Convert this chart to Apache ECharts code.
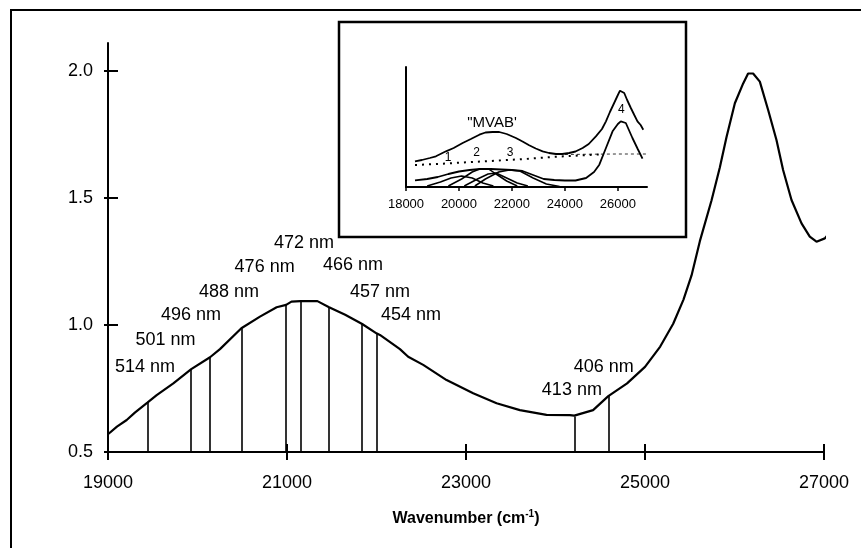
<!DOCTYPE html>
<html>
<head>
<meta charset="utf-8">
<script src="https://cdn.jsdelivr.net/npm/echarts@6/dist/echarts.min.js"></script>
<style>
  html, body { margin: 0; padding: 0; background: #fff; }
  #chart { width: 861px; height: 548px; }
</style>
</head>
<body>
<div id="chart"></div>
<script>
// main spectrum (wavenumber cm-1, absorbance)
var mainWn = [19000, 19100, 19209, 19300, 19440, 19544, 19730, 19930, 20140, 20251, 20490, 20698, 20884, 20990, 21050, 21150, 21340, 21470, 21650, 21840, 22000, 22038, 22262, 22354, 22522, 22783, 23080, 23342, 23602, 23900, 24161, 24210, 24420, 24590, 24800, 25000, 25170, 25315, 25430, 25520, 25613, 25743, 25836, 25911, 26004, 26097, 26152, 26208, 26283, 26376, 26469, 26543, 26637, 26749, 26841, 26916, 27009, 27072];
var mainAbs = [0.57, 0.60, 0.626, 0.655, 0.694, 0.724, 0.770, 0.826, 0.873, 0.905, 0.987, 1.033, 1.070, 1.079, 1.092, 1.094, 1.094, 1.07, 1.04, 1.004, 0.967, 0.961, 0.905, 0.875, 0.843, 0.783, 0.731, 0.692, 0.665, 0.646, 0.645, 0.643, 0.665, 0.72, 0.77, 0.835, 0.915, 1.005, 1.10, 1.195, 1.33, 1.49, 1.62, 1.74, 1.873, 1.951, 1.99, 1.99, 1.958, 1.846, 1.728, 1.61, 1.492, 1.40, 1.348, 1.328, 1.341, 1.367];

// laser lines
var laserNames = ['514 nm', '501 nm', '496 nm', '488 nm', '476 nm', '472 nm', '466 nm', '457 nm', '454 nm', '413 nm', '406 nm'];
var laserWn = [19440, 19930, 20140, 20490, 20990, 21150, 21470, 21840, 22000, 24210, 24590];
var laserTop = [0.694, 0.826, 0.873, 0.987, 1.079, 1.094, 1.07, 1.004, 0.967, 0.64, 0.72];
// where each laser label sits (data coords)
var labelWn = [19413, 19642, 19927, 20352, 20750, 21190, 21737, 22038, 22385, 24183, 24540];
var labelAbs = [0.835, 0.941, 1.039, 1.130, 1.228, 1.323, 1.236, 1.130, 1.039, 0.744, 0.835];

var xTicks = [19000, 21000, 23000, 25000, 27000];
var yTicks = [0.5, 1.0, 1.5, 2.0];

// inset: total spectrum "MVAB'"
var insTopWn = [18340, 18600, 18900, 19130, 19510, 19800, 20140, 20450, 20770, 21000, 21270, 21520, 21800, 22150, 22400, 22650, 22900, 23160, 23400, 23660, 23900, 24160, 24400, 24670, 24900, 25170, 25400, 25550, 25700, 25860, 26000, 26080, 26240, 26350, 26490, 26620, 26740, 26860, 26960];
var insTopVal = [0.257, 0.27, 0.29, 0.307, 0.357, 0.39, 0.44, 0.48, 0.523, 0.545, 0.55, 0.55, 0.53, 0.49, 0.455, 0.417, 0.385, 0.357, 0.34, 0.33, 0.33, 0.34, 0.355, 0.39, 0.43, 0.507, 0.58, 0.657, 0.75, 0.84, 0.92, 0.963, 0.94, 0.87, 0.79, 0.72, 0.657, 0.62, 0.573];
// inset: sum of bands (lower curve)
var insLowWn = [18340, 18800, 19200, 19600, 20000, 20400, 20800, 21200, 21600, 22000, 22400, 22800, 23200, 23600, 24000, 24400, 24800, 25100, 25300, 25550, 25800, 26000, 26110, 26300, 26550, 26750, 26930];
var insLowVal = [0.067, 0.08, 0.10, 0.13, 0.155, 0.17, 0.18, 0.18, 0.175, 0.17, 0.16, 0.12, 0.08, 0.07, 0.065, 0.065, 0.09, 0.15, 0.223, 0.39, 0.557, 0.63, 0.657, 0.64, 0.49, 0.38, 0.283];
// inset: component bands
var band1Wn = [18800, 19300, 19700, 20100, 20500, 20900, 21300];
var band1Val = [0.01, 0.05, 0.09, 0.11, 0.09, 0.04, 0.01];
var band2Wn = [19600, 20100, 20500, 20800, 21100, 21400, 21800, 22200];
var band2Val = [0.01, 0.08, 0.15, 0.183, 0.183, 0.13, 0.06, 0.01];
var band3Wn = [20200, 20700, 21100, 21400, 21800, 22200, 22600];
var band3Val = [0.01, 0.08, 0.13, 0.14, 0.09, 0.04, 0.01];
var band3bWn = [20600, 21000, 21500, 21900, 22300, 22800, 23300, 23800];
var band3bVal = [0.01, 0.08, 0.15, 0.17, 0.16, 0.09, 0.03, 0.005];
// inset baselines
var dotWn = [18340, 19500, 20500, 21500, 22500, 23500, 24500, 25300];
var dotVal = [0.22, 0.235, 0.25, 0.265, 0.28, 0.30, 0.315, 0.325];
var dashWn = [24000, 25000, 26000, 27100];
var dashVal = [0.325, 0.328, 0.33, 0.33];
var insTicks = [18000, 20000, 22000, 24000, 26000];
var insNames = ['"MVAB\'', '1', '2', '3', '4'];
var insNameWn = [21250, 19590, 20670, 21930, 26130];
var insNameVal = [0.64, 0.29, 0.34, 0.34, 0.77];

function pairs(xs, ys) {
  return xs.map(function (x, i) { return [x, ys[i]]; });
}

var font = 'Liberation Sans, Arial, sans-serif';
var narrow = 'Liberation Sans Narrow, Liberation Sans, Arial, sans-serif';

var chart = echarts.init(document.getElementById('chart'));

function insetLine(xs, ys, extra) {
  var s = {
    type: 'line', xAxisIndex: 2, yAxisIndex: 2, showSymbol: false, silent: true,
    data: pairs(xs, ys),
    lineStyle: { color: '#000', width: 1.8 }
  };
  if (extra) { for (var k in extra) s[k] = extra[k]; }
  return s;
}

function plain(v) { return String(v); }

var option = {
  animation: false,
  backgroundColor: '#fff',
  grid: [
    { left: 108, right: 37, top: 43, bottom: 96 },
    { left: 406, right: 214, top: 67, bottom: 361 }
  ],
  xAxis: [
    {
      type: 'value', gridIndex: 0, position: 'bottom', min: 19000, max: 27000, interval: 2000,
      axisLine: { lineStyle: { color: '#000', width: 2 } },
      axisTick: { inside: true, length: 8, lineStyle: { color: '#000', width: 2 } },
      axisLabel: { color: '#000', fontSize: 18, fontFamily: font, margin: 22,
        customValues: xTicks, formatter: plain },
      splitLine: { show: false },
      name: 'Wavenumber (cm{sup|-1})',
      nameLocation: 'middle', nameGap: 57,
      nameTextStyle: { color: '#000', fontSize: 16, fontWeight: 'bold', fontFamily: font,
        rich: { sup: { fontSize: 10, fontWeight: 'bold', verticalAlign: 'top', padding: [0, 0, 10, 0] } } }
    },
    {
      type: 'value', gridIndex: 0, position: 'bottom', min: 19000, max: 27000, interval: 2000,
      axisLine: { show: false },
      axisTick: { inside: false, length: 8, lineStyle: { color: '#000', width: 2 } },
      axisLabel: { show: false },
      splitLine: { show: false }
    },
    {
      type: 'value', gridIndex: 1, min: 18000, max: 27100, interval: 2000,
      axisLine: { lineStyle: { color: '#000', width: 2 } },
      axisTick: { length: 4, lineStyle: { color: '#000', width: 1.5 }, customValues: insTicks },
      axisLabel: { color: '#000', fontSize: 13, fontFamily: narrow, margin: 11,
        customValues: insTicks, formatter: plain },
      splitLine: { show: false }
    }
  ],
  yAxis: [
    {
      type: 'value', gridIndex: 0, position: 'left', min: 0.5, max: 2.11, interval: 0.5,
      axisLine: { show: true, lineStyle: { color: '#000', width: 2 } },
      axisTick: { show: true, inside: true, length: 10, lineStyle: { color: '#000', width: 2 }, customValues: yTicks },
      axisLabel: { color: '#000', fontSize: 18, fontFamily: font, margin: 15, customValues: yTicks,
        formatter: function (v) { return v.toFixed(1); } },
      splitLine: { show: false }
    },
    {
      type: 'value', gridIndex: 0, position: 'left', min: 0.5, max: 2.11, interval: 0.5,
      axisLine: { show: false },
      axisTick: { show: true, inside: false, length: 4, lineStyle: { color: '#000', width: 2 }, customValues: yTicks },
      axisLabel: { show: false },
      splitLine: { show: false }
    },
    {
      type: 'value', gridIndex: 1, min: 0, max: 1.2,
      axisLine: { show: true, lineStyle: { color: '#000', width: 2 } },
      axisTick: { show: false },
      axisLabel: { show: false },
      splitLine: { show: false }
    }
  ],
  graphic: [
    { type: 'rect', shape: { x: 11, y: 10, width: 900, height: 600 }, style: { fill: 'none', stroke: '#000', lineWidth: 2 }, silent: true },
    { type: 'rect', shape: { x: 339, y: 22, width: 347, height: 215 }, style: { fill: 'none', stroke: '#000', lineWidth: 2.5 }, silent: true, z: 10 }
  ],
  series: [
    {
      type: 'line', xAxisIndex: 0, yAxisIndex: 0, showSymbol: false, silent: true,
      data: pairs(mainWn, mainAbs),
      lineStyle: { color: '#000', width: 2.2 },
      markLine: {
        silent: true, symbol: 'none', animation: false,
        label: { show: false },
        lineStyle: { color: '#000', width: 1.6, type: 'solid' },
        data: laserWn.map(function (w, i) {
          return [{ coord: [w, 0.5] }, { coord: [w, laserTop[i]] }];
        })
      }
    },
    {
      type: 'scatter', xAxisIndex: 0, yAxisIndex: 0, symbolSize: 0, silent: true,
      itemStyle: { opacity: 1, color: '#000' },
      data: laserNames.map(function (n, i) { return { name: n, value: [labelWn[i], labelAbs[i]] }; }),
      label: { show: true, position: 'inside', formatter: '{b}', color: '#000', opacity: 1,
        fontSize: 18, fontFamily: font }
    },
    insetLine(insTopWn, insTopVal),
    insetLine(insLowWn, insLowVal),
    insetLine(band1Wn, band1Val, { lineStyle: { color: '#000', width: 1.5 } }),
    insetLine(band2Wn, band2Val, { lineStyle: { color: '#000', width: 1.5 } }),
    insetLine(band3Wn, band3Val, { lineStyle: { color: '#000', width: 1.5 } }),
    insetLine(band3bWn, band3bVal, { lineStyle: { color: '#000', width: 1.5 } }),
    insetLine(dotWn, dotVal, { lineStyle: { color: '#000', width: 2, type: [2, 5] } }),
    insetLine(dashWn, dashVal, { lineStyle: { color: '#000', width: 0.8, type: [3, 3] } }),
    {
      type: 'scatter', xAxisIndex: 2, yAxisIndex: 2, symbolSize: 0, silent: true,
      itemStyle: { opacity: 1, color: '#000' },
      data: insNames.map(function (n, i) {
        return { name: n, value: [insNameWn[i], insNameVal[i]], label: { fontSize: i === 0 ? 15 : 12 } };
      }),
      label: { show: true, position: 'inside', formatter: '{b}', color: '#000', opacity: 1, fontFamily: font }
    }
  ]
};

chart.setOption(option);
</script>
</body>
</html>
